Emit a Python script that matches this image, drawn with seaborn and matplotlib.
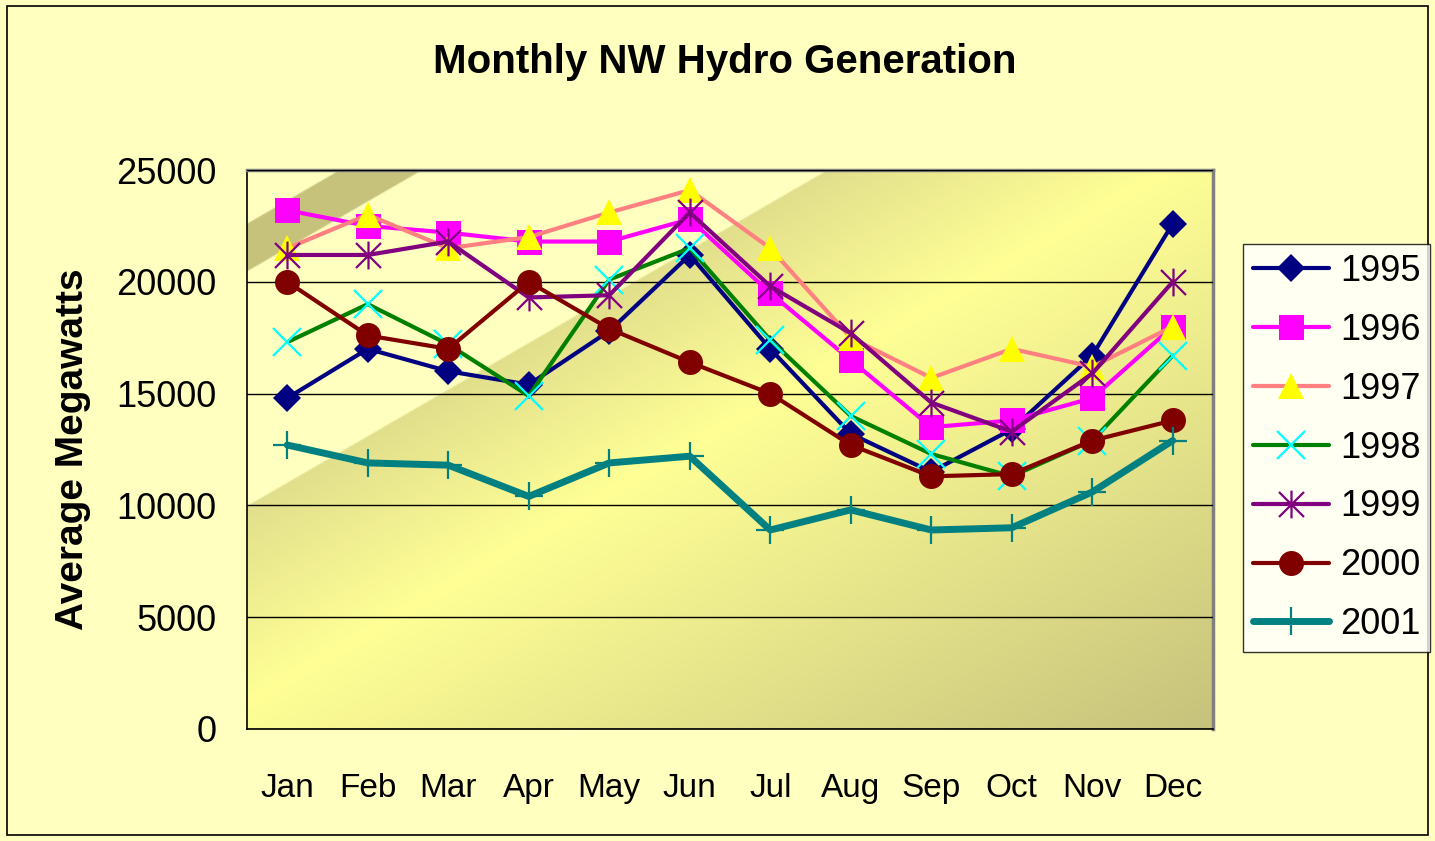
import numpy as np
import pandas as pd
import matplotlib
matplotlib.use("Agg")
import matplotlib.pyplot as plt
import seaborn as sns
from matplotlib.path import Path
from matplotlib.patches import Rectangle

months = ["Jan", "Feb", "Mar", "Apr", "May", "Jun",
          "Jul", "Aug", "Sep", "Oct", "Nov", "Dec"]

y1995 = [14800, 17000, 16000, 15400, 17800, 21200, 17000, 13200, 11500, 13400, 16700, 22600]
y1996 = [23200, 22500, 22200, 21800, 21800, 22800, 19500, 16500, 13500, 13800, 14800, 18000]
y1997 = [21500, 23000, 21500, 22000, 23100, 24100, 21500, 17500, 15700, 17000, 16200, 18000]
y1998 = [17300, 19000, 17200, 14900, 20100, 21500, 17400, 14000, 12300, 11300, 12900, 16700]
y1999 = [21200, 21200, 21800, 19300, 19400, 23100, 19800, 17700, 14600, 13300, 15900, 20000]
y2000 = [20000, 17600, 17000, 20000, 17900, 16400, 15000, 12700, 11300, 11400, 12900, 13800]
y2001 = [12700, 11900, 11800, 10400, 11900, 12200, 8900, 9800, 8900, 9000, 10600, 12900]

years = ["1995", "1996", "1997", "1998", "1999", "2000", "2001"]
series = [y1995, y1996, y1997, y1998, y1999, y2000, y2001]

# asterisk marker like the spreadsheet one: vertical bar plus an x
star = Path([(0, -1), (0, 1), (-0.9, -0.9), (0.9, 0.9), (-0.9, 0.9), (0.9, -0.9)],
            [Path.MOVETO, Path.LINETO, Path.MOVETO, Path.LINETO, Path.MOVETO, Path.LINETO])

styles = {
    "1995": dict(color="#000080", marker="D", ms=14, mfc="#000080", mec="#000080", lw=3),
    "1996": dict(color="#FF00FF", marker="s", ms=18, mfc="#FF00FF", mec="#FF00FF", lw=3),
    "1997": dict(color="#FF8080", marker="^", ms=19, mfc="#FFFF00", mec="#FFFF00", lw=3),
    "1998": dict(color="#008000", marker="x", ms=20, mfc="none", mec="#00FFFF", mew=1.6, lw=3),
    "1999": dict(color="#800080", marker=star, ms=20, mfc="none", mec="#800080", mew=1.6, lw=3),
    "2000": dict(color="#800000", marker="o", ms=18, mfc="#800000", mec="#800000", lw=3),
    "2001": dict(color="#008080", marker="+", ms=20, mfc="none", mec="#008080", mew=1.6, lw=5),
}

df = pd.DataFrame({"month": months * len(years),
                   "year": np.repeat(years, len(months)),
                   "mw": np.concatenate(series)})

sns.set_style("white")
plt.rcParams["font.family"] = ["Liberation Sans", "DejaVu Sans"]
plt.rcParams["text.color"] = "black"
plt.rcParams["axes.labelcolor"] = "black"
plt.rcParams["xtick.color"] = "black"
plt.rcParams["ytick.color"] = "black"

bg = "#FFFFC0"
fig = plt.figure(figsize=(14.35, 8.41), dpi=100, facecolor=bg)
ax = fig.add_axes([247 / 1435, 1 - 729 / 841, 966 / 1435, 559 / 841])
ax.set_facecolor(bg)

# diagonal gradient fill of the plot area
n = 400
u, v = np.meshgrid(np.linspace(0, 1, n), np.linspace(0, 1, n))
s = v - u
light = np.array([255, 255, 192]) / 255
olive = np.array([198, 194, 124]) / 255
dark_edge = np.array([226, 223, 140]) / 255
bright = np.array([255, 255, 150]) / 255
img = np.zeros((n, n, 3))
img[:] = light
band = (s > 0.82) & (s < 0.907)
img[band] = olive
m1 = (s <= 0.40) & (s > 0.05)
t1 = ((0.40 - s[m1]) / 0.35)[:, None]
img[m1] = dark_edge * (1 - t1) + bright * t1
m2 = s <= 0.05
t2 = ((0.05 - s[m2]) / 1.05)[:, None]
img[m2] = bright * (1 - t2) + olive * t2
ax.imshow(img, origin="lower", extent=[0, 1, 0, 1], transform=ax.transAxes,
          aspect="auto", zorder=0, interpolation="bilinear")

handles = []
for yr in years:
    st = dict(styles[yr])
    sub = df[df["year"] == yr]
    sns.lineplot(data=sub, x="month", y="mw", ax=ax, sort=False,
                 color=st.pop("color"), marker=st.pop("marker"),
                 markersize=st.pop("ms"), markerfacecolor=st.pop("mfc"),
                 markeredgecolor=st.pop("mec"), markeredgewidth=st.pop("mew", 0),
                 linewidth=st.pop("lw"), label=yr, zorder=3)
    handles.append(ax.lines[-1])

ax.set_xlim(-0.5, 11.5)
ax.set_ylim(0, 25000)
ax.set_yticks(np.arange(0, 25001, 5000))
ax.set_xticks(range(12), months)
ax.set_xticks(np.arange(-0.5, 12, 1), minor=True)
ax.tick_params(axis="x", which="major", length=0, pad=32, labelsize=24)
ax.tick_params(axis="x", which="minor", length=10, width=1, color="black", direction="out")
ax.tick_params(axis="y", length=10, width=1, color="black", direction="out", pad=12, labelsize=26)
ax.yaxis.grid(True, color="black", linewidth=1)
ax.set_axisbelow(False)
for ln in ax.get_ygridlines():
    ln.set_zorder(1)

ax.set_xlabel("")
ax.set_ylabel("Average Megawatts", fontsize=28, fontweight="bold", labelpad=18)

for side in ["left", "bottom"]:
    ax.spines[side].set_color("black")
    ax.spines[side].set_linewidth(1.2)
for side in ["top", "right"]:
    ax.spines[side].set_color("#808080")
    ax.spines[side].set_linewidth(2.5)

fig.text(0.505, 0.926, "Monthly NW Hydro Generation", ha="center", va="center",
         fontsize=29, fontweight="bold")

leg = fig.legend(handles=handles, labels=years, loc="center left",
                 bbox_to_anchor=(1243 / 1435, 1 - 448 / 841), fontsize=26,
                 frameon=True, fancybox=False, edgecolor="black", facecolor="white",
                 handlelength=2.1, labelspacing=0.66, borderpad=0.28, handletextpad=0.3,
                 borderaxespad=0)
leg.get_frame().set_linewidth(1)
if ax.get_legend() is not None:
    ax.get_legend().remove()

fig.patches.append(Rectangle((7 / 1435, 6 / 841), 1421 / 1435, 829 / 841, fill=False,
                             edgecolor="black", linewidth=1.2, transform=fig.transFigure))

fig.savefig("out.png", dpi=100, facecolor=bg)
